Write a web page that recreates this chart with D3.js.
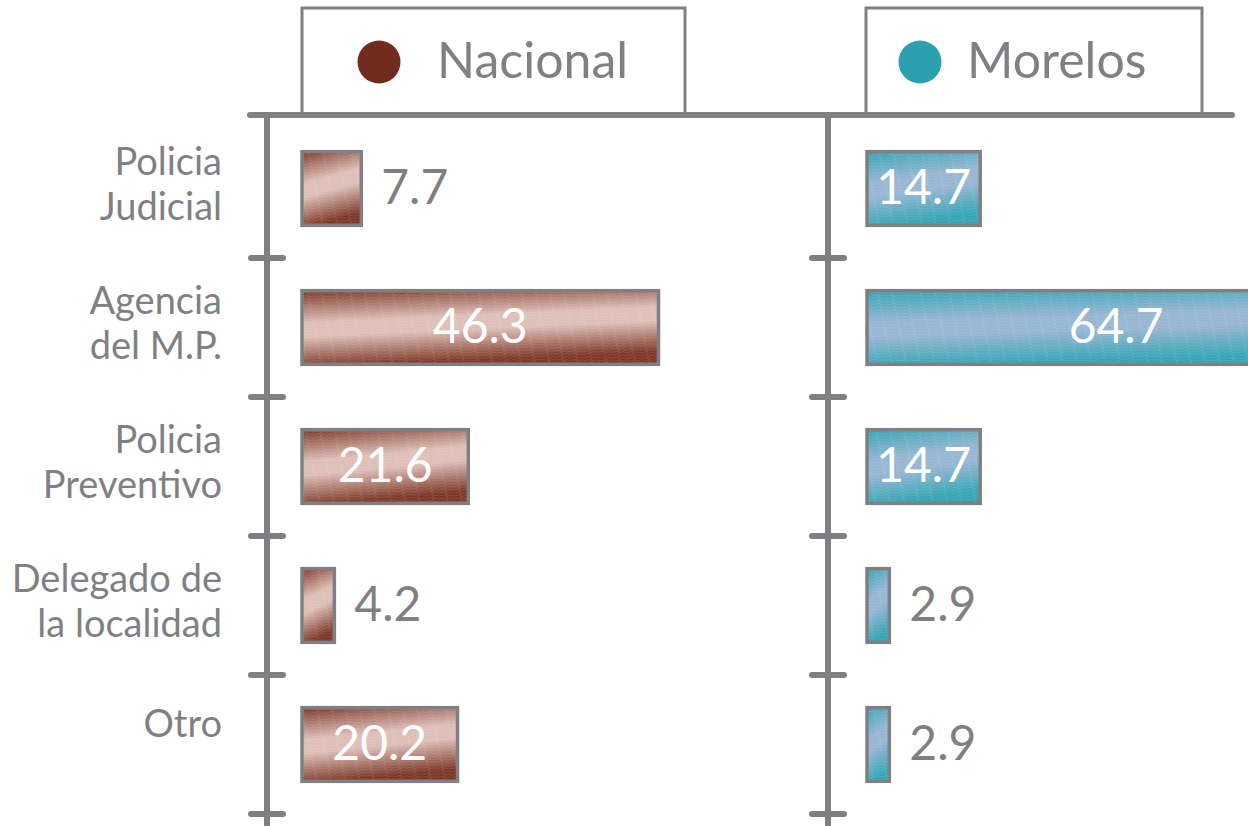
<!DOCTYPE html>
<html>
<head>
<meta charset="utf-8">
<script src="https://cdn.jsdelivr.net/npm/d3@7"></script>
<style>
  html, body { margin: 0; padding: 0; background: #ffffff; }
  svg { display: block; }
  text { font-family: Lato, "Open Sans", sans-serif; }
</style>
</head>
<body>
<svg id="chart" width="1248" height="826"></svg>
<script>
// Categories (label lines) and the two series, in percent
const categories = ["Policia Judicial", "Agencia del M.P.", "Policia Preventivo", "Delegado de la localidad", "Otro"];
const categoryLines = [["Policia", "Judicial"], ["Agencia", "del M.P."], ["Policia", "Preventivo"], ["Delegado de", "la localidad"], ["Otro"]];
const seriesNames = ["Nacional", "Morelos"];
const nacional = [7.7, 46.3, 21.6, 4.2, 20.2];
const morelos = [14.7, 64.7, 14.7, 2.9, 2.9];

const W = 1248, H = 826;
const GRAY = "#808084";
const svg = d3.select("#chart");
const defs = svg.append("defs");

// Panel layout: axis position, bar origin, legend box
const panels = [
  { name: seriesNames[0], values: nacional, axisX: 267, barX: 302, boxX: 302, boxW: 383,
    dot: "#722b1c", dark: "#7a3322", light: "#dcbdb5", id: "nac", dotDx: 77, textDx: 135 },
  { name: seriesNames[1], values: morelos, axisX: 828, barX: 867, boxX: 866, boxW: 336,
    dot: "#2ba0b0", dark: "#2fa3b2", light: "#95b4d2", id: "mor", dotDx: 54, textDx: 101 }
];

const y = d3.scaleBand().domain(categories).range([119, 814]).padding(0);
const x = d3.scaleLinear().domain([0, 50]).range([0, 385]);
const barH = y.step() * 0.53;
const fmt = d3.format(".1f");

// Gradient + fine streak texture for each series
panels.forEach(p => {
  const g = defs.append("linearGradient").attr("id", "grad-" + p.id)
    .attr("x1", 0).attr("y1", 0).attr("x2", 0.22).attr("y2", 1);
  [[0, p.dark], [0.42, p.light], [0.6, p.light], [1, p.dark]].forEach(([o, c]) =>
    g.append("stop").attr("offset", o).attr("stop-color", c));
  const pat = defs.append("pattern").attr("id", "tex-" + p.id)
    .attr("patternUnits", "userSpaceOnUse").attr("width", 14).attr("height", 3)
    .attr("patternTransform", "rotate(-11)");
  pat.append("line").attr("x1", 0).attr("y1", 0.75).attr("x2", 9).attr("y2", 0.75)
    .attr("stroke", "#ffffff").attr("stroke-opacity", 0.2).attr("stroke-width", 0.8);
  pat.append("line").attr("x1", 7).attr("y1", 2.25).attr("x2", 16).attr("y2", 2.25)
    .attr("stroke", "#ffffff").attr("stroke-opacity", 0.2).attr("stroke-width", 0.8);
});

// Legend boxes
panels.forEach(p => {
  const lg = svg.append("g");
  lg.append("rect").attr("x", p.boxX).attr("y", 8).attr("width", p.boxW).attr("height", 106)
    .attr("fill", "#fff").attr("stroke", GRAY).attr("stroke-width", 3);
  lg.append("circle").attr("cx", p.boxX + p.dotDx).attr("cy", 62).attr("r", 21.5)
    .attr("fill", p.dot);
  lg.append("text").attr("x", p.boxX + p.textDx).attr("y", 78)
    .attr("font-size", 50).attr("fill", GRAY).text(p.name);
});

// Top rule shared by both panels
svg.append("line").attr("x1", 250).attr("x2", 1232).attr("y1", 115).attr("y2", 115)
  .attr("stroke", GRAY).attr("stroke-width", 6).attr("stroke-linecap", "round");

// Category labels
const lab = svg.append("g").attr("fill", GRAY).attr("font-size", 38).attr("text-anchor", "end");
categories.forEach((c, i) => {
  const cy = y(c) + y.step() / 2;
  const lines = categoryLines[i];
  const first = lines.length > 1 ? cy - 14 : cy - 8;
  const t = lab.append("text").attr("x", 222).attr("y", first);
  lines.forEach((ln, j) => t.append("tspan").attr("x", 222).attr("dy", j === 0 ? 0 : 45).text(ln));
});

panels.forEach(p => {
  const g = svg.append("g");
  // Vertical axis with cross ticks at band boundaries
  g.append("line").attr("x1", p.axisX).attr("x2", p.axisX).attr("y1", 115).attr("y2", H + 10)
    .attr("stroke", GRAY).attr("stroke-width", 6);
  g.selectAll("line.tick").data(categories).join("line").attr("class", "tick")
    .attr("x1", p.axisX - 16).attr("x2", p.axisX + 16)
    .attr("y1", d => y(d) + y.step()).attr("y2", d => y(d) + y.step())
    .attr("stroke", GRAY).attr("stroke-width", 6).attr("stroke-linecap", "round");

  const rows = categories.map((c, i) => ({ c, v: p.values[i] }));
  const bars = g.selectAll("g.bar").data(rows).join("g").attr("class", "bar");
  bars.append("rect")
    .attr("x", p.barX).attr("y", d => y(d.c) + (y.step() - barH) / 2)
    .attr("width", d => x(d.v)).attr("height", barH)
    .attr("fill", `url(#grad-${p.id})`);
  bars.append("rect")
    .attr("x", p.barX).attr("y", d => y(d.c) + (y.step() - barH) / 2)
    .attr("width", d => x(d.v)).attr("height", barH)
    .attr("fill", `url(#tex-${p.id})`)
    .attr("stroke", GRAY).attr("stroke-width", 3.5);
  bars.append("text")
    .attr("x", d => x(d.v) > 80 ? p.barX + x(d.v) / 2 : p.barX + x(d.v) + 20)
    .attr("y", d => y(d.c) + y.step() / 2 + 15)
    .attr("text-anchor", d => x(d.v) > 80 ? "middle" : "start")
    .attr("font-size", 48)
    .attr("fill", d => x(d.v) > 80 ? "#ffffff" : GRAY)
    .text(d => fmt(d.v));
});
</script>
</body>
</html>
